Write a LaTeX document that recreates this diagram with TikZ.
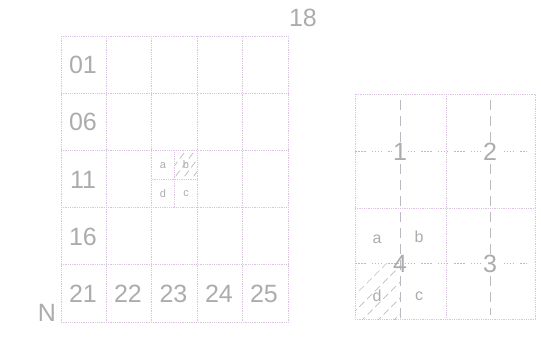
\documentclass[tikz,border=0pt]{standalone}
\usepackage{fontspec}
\setmainfont{Liberation Sans}
\definecolor{gridc}{RGB}{218,196,226}
\definecolor{txtc}{RGB}{172,172,172}
\definecolor{dashc}{RGB}{190,184,196}
\begin{document}
\begin{tikzpicture}[x=1pt,y=-1pt,
  gridline/.style={draw=gridc, line width=0.8pt, densely dotted},
  vaxis/.style={draw=dashc, line width=0.7pt, dash pattern=on 10pt off 6pt},
  haxis/.style={draw=dashc, line width=0.7pt, dash pattern=on 1.5pt off 1.5pt on 1.5pt off 1.5pt on 1.5pt off 1.5pt on 1.5pt off 6pt},
  hatchline/.style={draw=dashc, line width=0.7pt, dash pattern=on 7pt off 4pt},
  biglbl/.style={text=txtc, font=\fontsize{25}{25}\selectfont, inner sep=0pt},
  midlbl/.style={text=txtc, font=\fontsize{16}{16}\selectfont, inner sep=0pt},
  smalllbl/.style={text=txtc, font=\fontsize{11}{11}\selectfont, inner sep=0pt}]
\useasboundingbox (0,0) rectangle (541,350);
% ---------- left grid ----------
\foreach \x in {61,106.4,151.8,197.2,242.6,288}
  \draw[gridline] (\x,36) -- (\x,322);
\foreach \y in {36,93.2,150.4,207.6,264.8,322}
  \draw[gridline] (61,\y) -- (288,\y);
% subdivision of cell 13
\draw[gridline] (174.5,150.4) -- (174.5,207.6);
\draw[gridline] (151.8,179) -- (197.2,179);
% hatch in b
\begin{scope}
  \clip (174.5,150.4) rectangle (197.2,179);
  \foreach \k in {0,9,...,63}
    \draw[hatchline] (160+\k,185) -- (190+\k,145);
\end{scope}
\node[biglbl] (n18) at (303,18) {18};
\node[biglbl] (nN) at (47,313) {N};
\node[biglbl] (l01) at (83,65) {01};
\node[biglbl] (l06) at (83,122) {06};
\node[biglbl] (l11) at (83,180) {11};
\node[biglbl] (l16) at (83,237) {16};
\node[biglbl] (l21) at (83,294) {21};
\node[biglbl] (l22) at (128,294) {22};
\node[biglbl] (l23) at (173.5,294) {23};
\node[biglbl] (l24) at (219,294) {24};
\node[biglbl] (l25) at (264,294) {25};
\node[smalllbl] (sa) at (163,166) {a};
\node[smalllbl] (sb) at (186,165) {b};
\node[smalllbl] (sd) at (163,194) {d};
\node[smalllbl] (sc) at (186,194) {c};
% ---------- right grid ----------
\draw[gridline] (355,94) rectangle (535,319);
\draw[gridline] (446,94) -- (446,319);
\draw[gridline] (355,208) -- (535,208);
% hatch in d of cell 4
\begin{scope}
  \clip (355,263) rectangle (400,319);
  \foreach \k in {0,16,...,112}
    \draw[hatchline] (320+\k,330) -- (390+\k,260);
\end{scope}
\draw[vaxis] (400,100) -- (400,319);
\draw[vaxis] (490,100) -- (490,315);
\draw[haxis] (355,151) -- (527,151);
\draw[haxis] (355,263) -- (527,263);
\node[biglbl, fill=white, inner sep=1pt] (r1) at (400,152) {1};
\node[biglbl, fill=white, inner sep=1pt] (r2) at (490,152) {2};
\node[biglbl, fill=white, inner sep=1pt] (r3) at (490,264) {3};
\node[biglbl, inner sep=1pt] (r4) at (400,264) {4};
\node[midlbl] (ra) at (377,239) {a};
\node[midlbl] (rb) at (419,237) {b};
\node[midlbl] (rd) at (377,296) {d};
\node[midlbl] (rc) at (419,296) {c};
\end{tikzpicture}
\end{document}
